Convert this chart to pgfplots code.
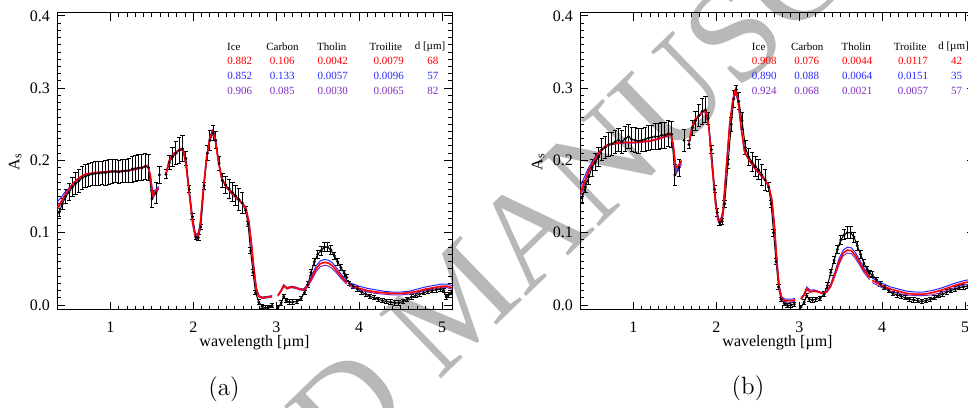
\documentclass[border=0pt]{standalone}
\usepackage{fontspec}
\newfontfamily\tf{Liberation Serif}
\usepackage{pgfplots}
\usepackage{pgfplotstable}
\pgfplotsset{compat=1.18}
\definecolor{mred}{RGB}{255,0,0}
\definecolor{mblue}{RGB}{40,40,255}
\definecolor{mpurp}{RGB}{125,45,190}

% ---------- panel (a) ----------
\pgfplotstableread{
x y e
0.38 0.128 0.005
0.42 0.140 0.008
0.46 0.150 0.010
0.50 0.156 0.012
0.54 0.163 0.013
0.58 0.168 0.015
0.62 0.172 0.016
0.66 0.176 0.016
0.70 0.178 0.016
0.74 0.180 0.016
0.78 0.181 0.016
0.82 0.182 0.016
0.86 0.182 0.016
0.90 0.183 0.016
0.94 0.183 0.017
0.98 0.184 0.017
1.02 0.185 0.017
1.06 0.185 0.016
1.10 0.184 0.016
1.14 0.185 0.016
1.18 0.186 0.016
1.22 0.186 0.017
1.26 0.188 0.018
1.30 0.189 0.018
1.34 0.190 0.018
1.38 0.190 0.018
1.42 0.192 0.018
1.46 0.190 0.018
1.50 0.147 0.012
1.55 0.155 0.015
nan nan nan
1.59 0.180 0.012
nan nan nan
1.67 0.181 0.006
1.71 0.197 0.010
1.75 0.205 0.013
1.79 0.210 0.016
1.83 0.214 0.018
1.87 0.216 0.018
1.91 0.203 0.010
1.95 0.160 0.005
1.99 0.122 0.004
2.03 0.094 0.004
2.06 0.093 0.004
2.09 0.108 0.004
2.13 0.165 0.005
2.17 0.210 0.010
2.20 0.228 0.014
2.24 0.238 0.010
2.27 0.228 0.012
2.31 0.196 0.010
2.35 0.172 0.010
2.39 0.166 0.012
2.43 0.161 0.013
2.47 0.156 0.013
2.51 0.151 0.014
2.55 0.146 0.015
2.59 0.141 0.015
2.63 0.131 0.005
2.66 0.112 0.004
2.69 0.075 0.004
2.72 0.045 0.004
2.75 0.017 0.003
2.79 0.004 0.003
2.83 -0.002 0.003
2.87 -0.004 0.003
2.91 -0.003 0.003
2.95 -0.001 0.003
nan nan nan
3.02 -0.004 0.003
3.06 0.003 0.003
3.09 0.012 0.003
3.12 0.006 0.003
3.16 0.004 0.003
3.20 0.004 0.003
3.25 0.005 0.003
3.30 0.009 0.003
3.34 0.017 0.003
3.38 0.028 0.004
3.42 0.045 0.004
3.46 0.060 0.005
3.50 0.070 0.005
3.54 0.075 0.006
3.58 0.080 0.006
3.62 0.080 0.006
3.66 0.076 0.006
3.70 0.068 0.005
3.74 0.060 0.005
3.78 0.052 0.004
3.82 0.044 0.004
3.85 0.038 0.004
nan nan nan
3.88 0.030 0.003
3.93 0.026 0.003
3.98 0.022 0.003
4.03 0.018 0.003
4.08 0.015 0.003
4.13 0.012 0.003
4.18 0.010 0.003
4.23 0.008 0.003
4.28 0.006 0.003
4.33 0.005 0.003
4.38 0.004 0.003
4.43 0.003 0.003
4.48 0.003 0.003
4.53 0.005 0.003
4.58 0.008 0.003
4.63 0.011 0.003
4.68 0.013 0.003
4.73 0.015 0.003
4.78 0.017 0.003
4.83 0.019 0.003
4.88 0.020 0.003
4.93 0.021 0.003
4.98 0.022 0.003
5.02 0.020 0.003
5.05 0.011 0.003
5.08 0.014 0.003
5.11 0.017 0.003
}\blackA

\pgfplotstableread{
x r b p
0.36 0.135 0.143 0.132
0.40 0.142 0.148 0.139
0.45 0.152 0.156 0.150
0.50 0.160 0.162 0.158
0.55 0.168 0.169 0.167
0.60 0.174 0.174 0.173
0.65 0.178 0.178 0.177
0.70 0.181 0.181 0.180
0.80 0.183 0.183 0.182
0.90 0.184 0.184 0.183
1.00 0.185 0.185 0.184
1.10 0.185 0.185 0.184
1.20 0.186 0.186 0.185
1.30 0.188 0.188 0.187
1.40 0.191 0.191 0.190
1.45 0.193 0.193 0.192
1.48 0.180 0.181 0.178
1.51 0.152 0.155 0.149
1.54 0.156 0.159 0.153
1.58 0.162 0.164 0.160
nan nan nan nan
1.67 0.182 0.183 0.181
1.71 0.200 0.201 0.199
1.75 0.208 0.209 0.207
1.80 0.212 0.213 0.211
1.85 0.216 0.217 0.215
1.88 0.213 0.214 0.212
1.91 0.195 0.196 0.194
1.95 0.155 0.157 0.153
1.99 0.115 0.118 0.112
2.02 0.097 0.100 0.094
2.05 0.094 0.097 0.091
2.08 0.108 0.110 0.106
2.12 0.160 0.161 0.158
2.16 0.205 0.206 0.204
2.20 0.232 0.233 0.230
2.23 0.240 0.242 0.238
2.26 0.232 0.234 0.230
2.30 0.200 0.201 0.199
2.34 0.176 0.176 0.175
2.40 0.163 0.163 0.162
2.46 0.155 0.155 0.154
2.52 0.148 0.148 0.147
2.58 0.142 0.142 0.141
2.63 0.135 0.136 0.134
2.67 0.115 0.117 0.113
2.70 0.085 0.088 0.082
2.73 0.050 0.053 0.047
2.76 0.022 0.024 0.020
2.79 0.012 0.013 0.011
2.83 0.010 0.011 0.009
2.90 0.011 0.012 0.010
2.95 0.012 0.013 0.011
nan nan nan nan
3.02 0.013 0.014 0.012
3.06 0.020 0.021 0.019
3.09 0.027 0.028 0.026
3.13 0.023 0.024 0.022
3.18 0.025 0.026 0.024
3.23 0.024 0.025 0.023
3.28 0.022 0.023 0.021
3.33 0.021 0.022 0.020
3.38 0.027 0.029 0.025
3.43 0.038 0.041 0.035
3.48 0.050 0.054 0.046
3.53 0.057 0.061 0.053
3.58 0.059 0.063 0.055
3.63 0.058 0.062 0.054
3.68 0.054 0.058 0.050
3.73 0.047 0.051 0.044
3.78 0.040 0.043 0.037
3.85 0.031 0.034 0.029
nan nan nan nan
3.88 0.028 0.031 0.026
4.00 0.023 0.026 0.021
4.10 0.020 0.023 0.018
4.20 0.018 0.021 0.016
4.30 0.017 0.019 0.015
4.40 0.016 0.018 0.014
4.50 0.016 0.018 0.014
4.60 0.017 0.019 0.015
4.70 0.019 0.022 0.017
4.80 0.022 0.025 0.020
4.90 0.024 0.027 0.022
5.00 0.026 0.029 0.024
5.06 0.026 0.029 0.024
5.12 0.024 0.027 0.022
}\modA

% ---------- panel (b) ----------
\pgfplotstableread{
x y e
0.38 0.148 0.006
0.42 0.163 0.008
0.46 0.177 0.010
0.50 0.190 0.012
0.54 0.198 0.012
0.58 0.205 0.013
0.62 0.215 0.015
0.66 0.218 0.015
0.70 0.222 0.016
0.74 0.223 0.016
0.78 0.226 0.016
0.82 0.228 0.016
0.86 0.226 0.016
0.90 0.230 0.017
0.94 0.233 0.017
0.98 0.229 0.017
1.02 0.228 0.017
1.06 0.227 0.017
1.10 0.228 0.016
1.14 0.229 0.016
1.18 0.231 0.017
1.22 0.232 0.017
1.26 0.233 0.018
1.30 0.233 0.018
1.34 0.235 0.018
1.38 0.235 0.018
1.42 0.237 0.018
1.46 0.236 0.018
1.50 0.180 0.015
1.55 0.190 0.012
nan nan nan
1.61 0.228 0.015
nan nan nan
1.67 0.222 0.006
1.71 0.245 0.010
1.75 0.255 0.013
1.79 0.262 0.015
1.83 0.268 0.018
1.87 0.270 0.018
1.90 0.258 0.008
1.94 0.215 0.005
1.98 0.160 0.005
2.01 0.128 0.005
2.04 0.114 0.004
2.07 0.116 0.004
2.10 0.140 0.005
2.14 0.195 0.006
2.18 0.250 0.010
2.21 0.285 0.012
2.24 0.298 0.006
2.27 0.282 0.012
2.31 0.255 0.012
2.35 0.218 0.010
2.39 0.205 0.012
2.43 0.198 0.013
2.47 0.192 0.014
2.51 0.187 0.014
2.55 0.180 0.014
2.59 0.173 0.015
2.63 0.163 0.006
2.66 0.140 0.005
2.69 0.100 0.005
2.72 0.060 0.004
2.75 0.025 0.004
2.78 0.008 0.003
2.82 0.002 0.003
2.86 -0.001 0.003
2.90 0.000 0.003
2.94 0.001 0.003
nan nan nan
3.02 -0.003 0.003
3.06 0.004 0.003
3.09 0.013 0.003
3.12 0.008 0.003
3.16 0.007 0.003
3.20 0.008 0.003
3.25 0.009 0.003
3.30 0.015 0.003
3.34 0.027 0.004
3.38 0.045 0.004
3.42 0.062 0.005
3.46 0.077 0.006
3.50 0.090 0.006
3.54 0.097 0.007
3.58 0.100 0.008
3.62 0.100 0.008
3.66 0.094 0.007
3.70 0.082 0.006
3.74 0.070 0.005
3.78 0.058 0.005
3.82 0.049 0.004
3.85 0.044 0.004
nan nan nan
3.88 0.042 0.004
3.93 0.035 0.003
3.98 0.029 0.003
4.03 0.024 0.003
4.08 0.020 0.003
4.13 0.016 0.003
4.18 0.014 0.003
4.23 0.012 0.003
4.28 0.010 0.003
4.33 0.008 0.003
4.38 0.007 0.003
4.43 0.006 0.003
4.48 0.005 0.003
4.53 0.006 0.003
4.58 0.008 0.003
4.63 0.010 0.003
4.68 0.013 0.003
4.73 0.015 0.003
4.78 0.018 0.003
4.83 0.020 0.003
4.88 0.022 0.003
4.93 0.024 0.003
4.98 0.025 0.003
5.03 0.026 0.003
5.08 0.027 0.003
}\blackB

\pgfplotstableread{
x r b p
0.36 0.155 0.165 0.150
0.40 0.168 0.175 0.164
0.45 0.183 0.188 0.180
0.50 0.195 0.198 0.193
0.55 0.205 0.207 0.203
0.60 0.213 0.214 0.212
0.65 0.219 0.219 0.218
0.70 0.222 0.222 0.221
0.80 0.224 0.224 0.223
0.90 0.225 0.225 0.224
1.00 0.225 0.225 0.224
1.10 0.226 0.226 0.225
1.20 0.227 0.227 0.226
1.30 0.230 0.230 0.229
1.40 0.234 0.234 0.233
1.45 0.237 0.237 0.236
1.48 0.222 0.221 0.219
1.51 0.190 0.186 0.181
1.54 0.193 0.190 0.186
1.58 0.200 0.198 0.195
nan nan nan nan
1.67 0.225 0.225 0.224
1.71 0.248 0.248 0.247
1.75 0.258 0.258 0.257
1.80 0.263 0.263 0.262
1.85 0.269 0.269 0.268
1.88 0.265 0.265 0.264
1.91 0.245 0.245 0.244
1.95 0.190 0.191 0.189
1.99 0.140 0.142 0.138
2.02 0.118 0.120 0.116
2.05 0.115 0.117 0.113
2.08 0.130 0.131 0.128
2.12 0.190 0.190 0.189
2.16 0.250 0.249 0.248
2.20 0.285 0.284 0.282
2.23 0.298 0.296 0.293
2.26 0.285 0.284 0.282
2.30 0.245 0.245 0.244
2.34 0.212 0.212 0.211
2.40 0.200 0.200 0.199
2.46 0.190 0.189 0.189
2.52 0.182 0.181 0.181
2.58 0.174 0.173 0.173
2.63 0.166 0.165 0.165
2.67 0.145 0.146 0.144
2.70 0.110 0.112 0.108
2.73 0.060 0.063 0.057
2.76 0.022 0.025 0.020
2.79 0.009 0.011 0.007
2.83 0.006 0.008 0.004
2.90 0.006 0.008 0.004
2.95 0.007 0.009 0.005
nan nan nan nan
3.02 0.008 0.010 0.008
3.06 0.014 0.015 0.016
3.09 0.022 0.023 0.025
3.13 0.018 0.019 0.021
3.18 0.019 0.020 0.021
3.23 0.018 0.019 0.019
3.28 0.016 0.017 0.016
3.33 0.018 0.019 0.017
3.38 0.027 0.029 0.025
3.43 0.043 0.046 0.040
3.48 0.060 0.064 0.056
3.53 0.072 0.076 0.068
3.58 0.076 0.080 0.072
3.63 0.075 0.079 0.071
3.68 0.068 0.072 0.064
3.73 0.058 0.062 0.055
3.78 0.048 0.051 0.045
3.85 0.038 0.041 0.035
nan nan nan nan
3.88 0.034 0.037 0.031
4.00 0.027 0.030 0.024
4.10 0.022 0.025 0.019
4.20 0.019 0.022 0.016
4.30 0.016 0.019 0.014
4.40 0.015 0.018 0.013
4.50 0.015 0.018 0.013
4.60 0.017 0.020 0.014
4.70 0.020 0.023 0.017
4.80 0.024 0.027 0.021
4.90 0.028 0.031 0.025
5.00 0.031 0.034 0.028
5.10 0.033 0.036 0.030
}\modB

\pgfplotsset{
 panel/.style={
  scale only axis, width=197.5pt, height=148.5pt, anchor=south west,
  xmin=0.355, xmax=5.12, ymin=-0.0069, ymax=0.404,
  xtick={1,2,3,4,5}, ytick={0,0.1,0.2,0.3,0.4},
  minor x tick num=9, minor y tick num=9,
  tick align=inside, major tick length=4pt, minor tick length=2pt,
  axis line style={line width=0.5pt},
  every tick/.style={black, line width=0.5pt},
  /pgf/number format/assume math mode=true,
  yticklabel={\pgfmathprintnumber[fixed,fixed zerofill,precision=1]{\tick}},
  tick label style={font=\fontsize{8}{9}\selectfont\tf},
  xticklabel style={yshift=-2.3pt},
  xlabel={wavelength [µm]}, ylabel={A\textsubscript{s}},
  label style={font=\fontsize{8}{9}\selectfont\tf},
  xlabel style={at={(axis description cs:0.5,-0.111)}, anchor=center},
  ylabel style={at={(axis description cs:-0.106,0.5)}, anchor=center},
  unbounded coords=jump,
 },
 obs/.style={black, line width=0.5pt, mark=*, mark size=0.45pt,
  error bars/.cd, y dir=both, y explicit,
  error bar style={line width=0.5pt, black},
  error mark options={rotate=90, mark size=1.1pt, line width=0.5pt, black}},
}

\begin{document}
\begin{tikzpicture}
\useasboundingbox (0,0) rectangle (484pt,203.5pt);
\clip (0,0) rectangle (484pt,203.5pt);
% watermark
\node[rotate=44, text=black!28, font=\fontsize{68}{68}\selectfont\tf, inner sep=0pt] at (229pt,53pt) {ACCEPTED MANUSCRIPT};

\begin{axis}[panel, at={(28.5pt,48.5pt)}]
\addplot[obs] table[x=x, y=y, y error=e] {\blackA};
\addplot[mpurp, line width=0.5pt] table[x=x, y=p] {\modA};
\addplot[mblue, line width=0.5pt] table[x=x, y=b] {\modA};
\addplot[mred, line width=0.8pt] table[x=x, y=r] {\modA};
\end{axis}

\begin{axis}[panel, at={(290pt,48.5pt)}]
\addplot[obs] table[x=x, y=y, y error=e] {\blackB};
\addplot[mpurp, line width=0.5pt] table[x=x, y=p] {\modB};
\addplot[mblue, line width=0.5pt] table[x=x, y=b] {\modB};
\addplot[mred, line width=0.8pt] table[x=x, y=r] {\modB};
\end{axis}

% composition tables
\begin{scope}[every node/.style={font=\fontsize{5.5}{6}\selectfont\tf, inner sep=0pt, anchor=center}]
\node at (116.9pt,180pt) {Ice};
\node at (141.25pt,180pt) {Carbon};
\node at (165.85pt,180pt) {Tholin};
\node at (192.9pt,180pt) {Troilite};
\node at (215pt,180pt) {d [µm]};
\node[text=mred] at (119.85pt,173pt) {0.882};
\node[text=mred] at (141.1pt,173pt) {0.106};
\node[text=mred] at (166.4pt,173pt) {0.0042};
\node[text=mred] at (194.35pt,173pt) {0.0079};
\node[text=mred] at (216.4pt,173pt) {68};
\node[text=mblue] at (119.85pt,165.5pt) {0.852};
\node[text=mblue] at (141.1pt,165.5pt) {0.133};
\node[text=mblue] at (166.4pt,165.5pt) {0.0057};
\node[text=mblue] at (194.35pt,165.5pt) {0.0096};
\node[text=mblue] at (216.4pt,165.5pt) {57};
\node[text=mpurp] at (119.85pt,158pt) {0.906};
\node[text=mpurp] at (141.1pt,158pt) {0.085};
\node[text=mpurp] at (166.4pt,158pt) {0.0030};
\node[text=mpurp] at (194.35pt,158pt) {0.0065};
\node[text=mpurp] at (216.4pt,158pt) {82};
%
\node at (379.35pt,180pt) {Ice};
\node at (403.6pt,180pt) {Carbon};
\node at (428.1pt,180pt) {Tholin};
\node at (455.1pt,180pt) {Troilite};
\node at (476.75pt,180pt) {d [µm]};
\node[text=mred] at (382.1pt,173pt) {0.908};
\node[text=mred] at (403.35pt,173pt) {0.076};
\node[text=mred] at (428.6pt,173pt) {0.0044};
\node[text=mred] at (456.5pt,173pt) {0.0117};
\node[text=mred] at (478.35pt,173pt) {42};
\node[text=mblue] at (382.1pt,165.5pt) {0.890};
\node[text=mblue] at (403.35pt,165.5pt) {0.088};
\node[text=mblue] at (428.6pt,165.5pt) {0.0064};
\node[text=mblue] at (456.5pt,165.5pt) {0.0151};
\node[text=mblue] at (478.35pt,165.5pt) {35};
\node[text=mpurp] at (382.1pt,158pt) {0.924};
\node[text=mpurp] at (403.35pt,158pt) {0.068};
\node[text=mpurp] at (428.6pt,158pt) {0.0021};
\node[text=mpurp] at (456.5pt,158pt) {0.0057};
\node[text=mpurp] at (478.35pt,158pt) {57};
\end{scope}

\node[font=\fontsize{12.5}{14}\selectfont] at (112pt,9pt) {(a)};
\node[font=\fontsize{12.5}{14}\selectfont] at (374pt,9.5pt) {(b)};
\end{tikzpicture}
\end{document}
